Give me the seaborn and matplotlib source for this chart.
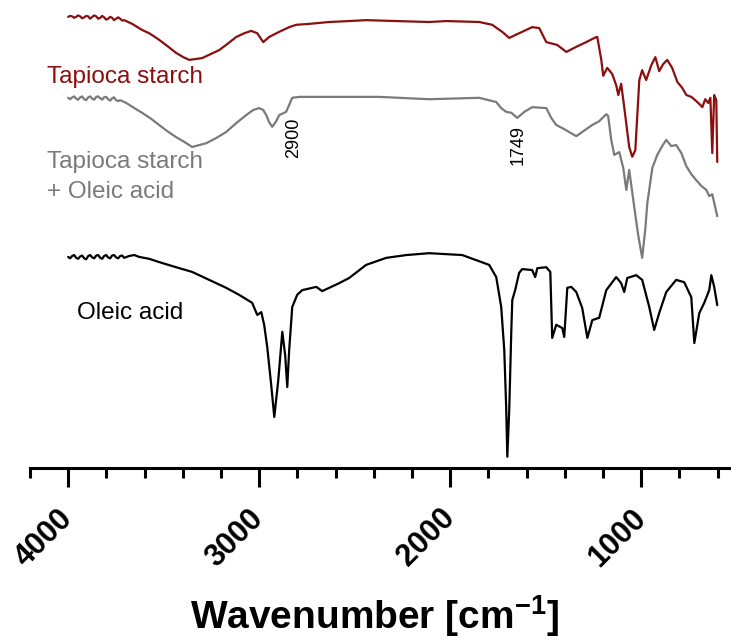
import numpy as np
import pandas as pd
import matplotlib
matplotlib.use('Agg')
import matplotlib.pyplot as plt
import seaborn as sns
from matplotlib.ticker import MultipleLocator, FixedLocator

sns.set_style('white')
plt.rcParams['font.family'] = ['Liberation Sans', 'DejaVu Sans']
plt.rcParams['mathtext.fontset'] = 'custom'
plt.rcParams['mathtext.rm'] = 'Liberation Sans:bold'
plt.rcParams['mathtext.bf'] = 'Liberation Sans:bold'

# FTIR spectra, transmittance in arbitrary units (already offset as drawn)
starch_wn = [4000, 3990, 3979, 3969, 3958, 3948, 3937, 3927, 3916, 3906, 3895, 3885, 3874, 3864, 3853,
             3843, 3832, 3822, 3812, 3801, 3791, 3780, 3770, 3760, 3749, 3738, 3728, 3717, 3707,
             3665, 3613, 3576, 3524, 3482, 3435, 3398, 3366, 3330, 3298, 3251, 3209, 3167, 3120, 3078,
             3042, 3010, 2979, 2948, 2895, 2843, 2806, 2738, 2633, 2529, 2440, 2283, 2110, 2021, 1848,
             1780, 1728, 1691, 1660, 1639, 1571, 1534, 1497, 1440, 1392, 1340, 1288, 1235, 1230,
             1209, 1199, 1178, 1152, 1131, 1120, 1105, 1089, 1063, 1047, 1031, 1010, 995, 974, 947,
             926, 906, 885, 864, 838, 811, 785, 764, 738, 712, 696, 680, 665, 649, 638, 628, 618, 607, 602]
starch_t = [96.4, 96.6, 96.5, 96.2, 96.4, 96.7, 96.5, 96.1, 96.3, 96.6, 96.5, 96.0, 96.4, 96.7, 96.5,
            96.0, 96.2, 96.6, 96.3, 95.8, 96.0, 96.4, 96.2, 95.7, 96.0, 96.3, 96.0, 95.6, 95.7,
            94.9, 93.6, 92.9, 91.5, 90.2, 88.7, 87.8, 87.2, 87.4, 87.6, 88.5, 89.3, 90.6, 92.1, 92.9,
            93.4, 92.9, 91.0, 92.1, 93.2, 94.2, 94.7, 94.9, 95.3, 95.5, 95.7, 95.5, 95.3, 95.5, 95.3,
            94.7, 93.2, 91.9, 92.5, 92.9, 94.2, 94.0, 91.0, 90.4, 88.9, 90.0, 91.0, 92.1, 92.1,
            87.2, 83.8, 85.5, 84.2, 81.8, 79.7, 82.1, 77.1, 68.6, 66.5, 67.9, 82.9, 85.0, 82.9, 86.1,
            87.8, 84.8, 86.3, 87.2, 85.5, 82.5, 81.2, 79.7, 79.3, 78.4, 77.8, 77.1, 78.8, 78.0, 79.1,
            67.3, 79.7, 78.6, 65.4]

blend_wn = [4000, 3990, 3979, 3969, 3958, 3948, 3937, 3927, 3916, 3906, 3895, 3885, 3874, 3864, 3853,
            3843, 3832, 3822, 3812, 3801, 3791, 3780, 3770, 3760, 3749, 3738, 3728, 3696,
            3654, 3613, 3565, 3524, 3482, 3435, 3393, 3351, 3314, 3277, 3225, 3173, 3120, 3068, 3031,
            3000, 2979, 2963, 2948, 2932, 2911, 2895, 2859, 2827, 2790, 2633, 2372, 2110, 1848, 1759,
            1733, 1707, 1680, 1649, 1612, 1571, 1497, 1471, 1445, 1403, 1340, 1288, 1256, 1220, 1183,
            1173, 1157, 1141, 1115, 1094, 1078, 1063, 1036, 1016, 995, 979, 968, 942, 916, 890, 869,
            843, 817, 790, 764, 738, 712, 686, 659, 644, 628, 612, 602]
blend_t = [79.1, 78.8, 79.2, 79.4, 78.9, 78.7, 79.2, 79.4, 78.8, 78.6, 79.2, 79.4, 78.9, 78.7, 79.3,
           79.4, 79.0, 78.7, 79.2, 79.3, 78.8, 78.5, 79.0, 79.2, 78.6, 78.4, 78.6, 78.0,
           76.9, 75.9, 74.6, 73.3, 72.0, 70.7, 69.7, 68.6, 69.0, 69.4, 70.5, 71.8, 73.7, 75.4, 76.5,
           76.9, 76.5, 75.4, 73.9, 72.9, 74.1, 75.4, 76.1, 79.1, 79.3, 79.3, 79.3, 78.8, 79.1, 78.2,
           76.9, 76.1, 75.9, 74.8, 76.1, 77.1, 76.9, 74.8, 73.3, 72.4, 70.9, 72.4, 73.3, 74.1, 75.6,
           75.2, 70.1, 66.9, 67.5, 64.1, 59.4, 63.7, 55.6, 49.8, 44.9, 50.9, 56.6, 64.1, 66.9, 68.8, 70.1,
           68.8, 69.0, 67.3, 64.5, 62.8, 61.5, 60.3, 59.4, 58.1, 58.5, 55.6, 53.8]

oleic_wn = [4000, 3990, 3979, 3969, 3958, 3948, 3937, 3927, 3916, 3906, 3895, 3885, 3874, 3864, 3853,
            3843, 3832, 3822, 3812, 3801, 3791, 3780, 3770, 3760, 3749, 3738, 3728, 3717, 3707,
            3681, 3654, 3628, 3576, 3524, 3435, 3351, 3262, 3173, 3105, 3037, 3010, 2989, 2974, 2958,
            2948, 2937, 2921, 2900, 2879, 2864, 2853, 2843, 2827, 2801, 2775, 2701, 2670, 2581, 2529,
            2440, 2335, 2230, 2110, 1937, 1796, 1759, 1733, 1717, 1707, 1701, 1691, 1680, 1675, 1660,
            1639, 1623, 1571, 1555, 1544, 1497, 1476, 1466, 1445, 1413, 1403, 1387, 1366, 1340, 1309,
            1282, 1256, 1220, 1183, 1131, 1105, 1089, 1073, 1026, 995, 958, 932, 906, 869, 817, 775,
            738, 722, 696, 670, 644, 633, 618, 602]
oleic_t = [45.1, 44.8, 45.3, 45.5, 44.9, 44.7, 45.2, 45.4, 44.8, 44.6, 45.3, 45.5, 45.0, 44.8, 45.4,
           45.5, 44.9, 44.7, 45.3, 45.5, 45.0, 44.8, 45.4, 45.5, 45.0, 44.8, 45.3, 45.4, 44.9,
           45.3, 45.5, 45.1, 44.7, 44.0, 42.9, 41.9, 40.2, 38.5, 37.0, 35.3, 32.7, 33.3, 30.6, 25.9,
           22.0, 17.7, 10.9, 18.8, 29.1, 24.1, 17.3, 25.2, 34.4, 37.0, 38.0, 38.7, 37.8, 39.5, 40.6,
           43.4, 44.9, 45.5, 45.9, 45.5, 43.4, 40.8, 34.4, 25.2, 13.0, 2.4, 12.4, 29.5, 35.9, 38.0,
           41.7, 42.5, 42.3, 40.8, 42.7, 42.9, 41.9, 27.8, 30.6, 29.9, 28.0, 38.5, 38.7, 37.6, 34.2,
           27.8, 31.6, 32.1, 38.0, 40.8, 39.5, 37.6, 40.6, 41.2, 40.2, 34.4, 29.5, 33.1, 37.6, 40.2, 39.7,
           36.5, 26.7, 33.1, 35.3, 38.0, 41.2, 38.7, 34.8]

red = '#8b0f0f'
grey = '#7a7a7a'

fig = plt.figure(figsize=(7.31, 6.44), dpi=100)
ax = fig.add_axes([0.041, 0.2733, 0.959, 0.7267])

sns.lineplot(x=starch_wn, y=starch_t, color=red, lw=1.6, ax=ax)
sns.lineplot(x=blend_wn, y=blend_t, color=grey, lw=1.6, ax=ax)
sns.lineplot(x=oleic_wn, y=oleic_t, color='black', lw=1.6, ax=ax)

ax.set_xlim(4200, 530)
ax.set_ylim(0, 100)
ax.set_yticks([])
ax.set_ylabel('')
sns.despine(ax=ax, left=True, top=True, right=True)
ax.spines['bottom'].set_linewidth(2.2)
ax.spines['bottom'].set_color('black')

ax.xaxis.set_major_locator(FixedLocator([4000, 3000, 2000, 1000]))
ax.xaxis.set_minor_locator(MultipleLocator(200))
ax.tick_params(axis='x', which='major', direction='out', length=14, width=2.2, pad=19,
               labelsize=22, bottom=True, color='black', labelcolor='black')
ax.tick_params(axis='x', which='minor', direction='out', length=7, width=2.2, bottom=True,
               color='black')
for lbl in ax.get_xticklabels():
    lbl.set_rotation(45)
    lbl.set_rotation_mode('anchor')
    lbl.set_ha('right')
    lbl.set_va('center')
    lbl.set_fontweight('bold')

ax.text(4111, 82.3, 'Tapioca starch', color=red, fontsize=17.5, ha='left', va='baseline')
ax.text(4111, 64.1, 'Tapioca starch', color=grey, fontsize=17.5, ha='left', va='baseline')
ax.text(4111, 57.7, '+ Oleic acid', color=grey, fontsize=17.5, ha='left', va='baseline')
ax.text(3954, 31.8, 'Oleic acid', color='black', fontsize=17.5, ha='left', va='baseline')
ax.text(2820, 66.2, '2900', rotation=90, fontsize=13, color='black', ha='center', va='bottom')
ax.text(1642, 64.7, '1749', rotation=90, fontsize=13, color='black', ha='center', va='bottom')

fig.text(375 / 731, 0.008, r'Wavenumber [cm$^{-1}$]', fontsize=28, fontweight='bold',
         color='black', ha='center', va='bottom')

fig.savefig('out.png', dpi=100)
